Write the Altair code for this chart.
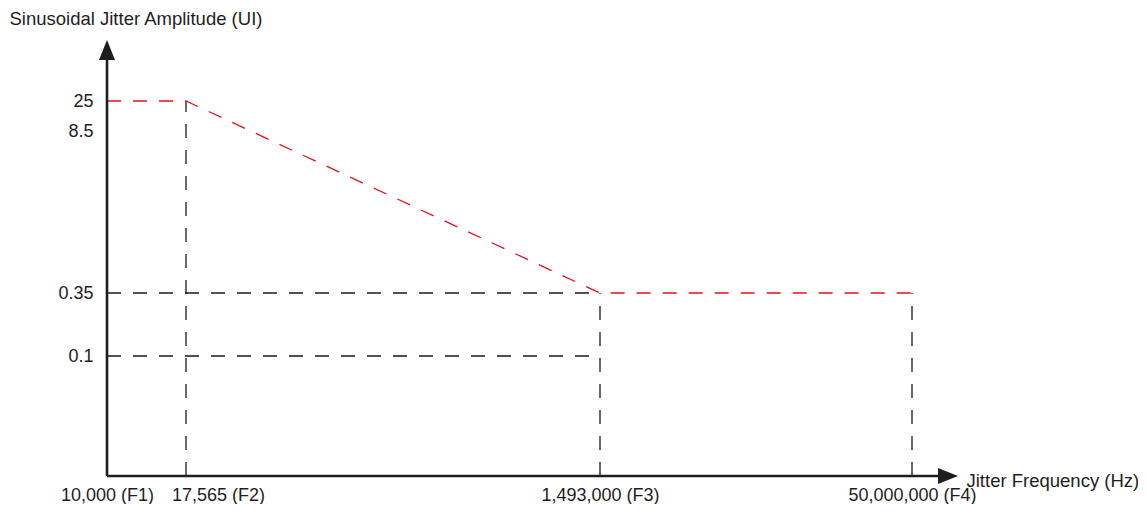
import json
import altair as alt
import pandas as pd

# ---- data -------------------------------------------------------------
freqs = [10000, 17565, 1493000, 50000000]          # Hz
freq_names = ["F1", "F2", "F3", "F4"]
amp_ticks = [0.1, 0.35, 8.5, 25]                   # UI

mask_freq = [10000, 17565, 1493000, 50000000]
mask_amp = [25, 25, 0.35, 0.35]

# black dashed guide lines
vguide_freq = [17565, 1493000, 50000000]
vguide_top = [25, 0.35, 0.35]
hguide_amp = [0.35, 0.1]
hguide_end = [1493000, 1493000]

# ---- layout (schematic, piecewise scales) ------------------------------
W, H = 860, 436
x_range = [0, 79, 493, 805]
y_domain = [0] + amp_ticks
y_range = [436, 316, 253, 91, 61]

FONT = "Liberation Sans"
FS = 18
TFS = 18.5
INK = "#1e1e1e"
GUIDE = "#1a1a1a"
RED = "#e8101a"
DASH = [14, 12]

xscale = alt.Scale(domain=freqs, range=x_range, zero=False, nice=False)
yscale = alt.Scale(domain=y_domain, range=y_range, zero=False, nice=False)

label_expr = (
    "format(datum.value, ',') + ' (' + "
    + json.dumps(freq_names) + "[indexof(" + json.dumps(freqs) + ", datum.value)] + ')'"
)

x_axis = alt.Axis(
    values=freqs, labelExpr=label_expr, grid=False, domain=False, ticks=False,
    tickSize=0, labelPadding=19, labelBaseline="middle", labelOverlap=False,
    labelFlush=False, labelBound=False,
    labelOffset=alt.condition(f"datum.value == {freqs[1]}", alt.value(32), alt.value(0)),
    title="Jitter Frequency (Hz)", titleAngle=0, titleAlign="left",
    titleBaseline="middle", titleX=W - 1, titleY=4,
)
y_axis = alt.Axis(
    values=amp_ticks, format="~g", grid=False, domain=False, ticks=False,
    tickSize=0, labelPadding=14, labelOverlap=False, labelFlush=False,
    title="Sinusoidal Jitter Amplitude (UI)", titleAngle=0, titleAlign="left",
    titleBaseline="middle", titleX=-98, titleY=-22,
)

X = alt.X("freq:Q", scale=xscale, axis=x_axis)
Y = alt.Y("amp:Q", scale=yscale, axis=y_axis)

vdf = pd.DataFrame({"freq": vguide_freq, "amp": [0] * len(vguide_freq), "amp2": vguide_top})
hdf = pd.DataFrame({"freq": [freqs[0]] * len(hguide_amp), "freq2": hguide_end, "amp": hguide_amp})
mdf = pd.DataFrame({"freq": mask_freq, "amp": mask_amp})

vguides = alt.Chart(vdf).mark_rule(color=GUIDE, strokeWidth=1.3, strokeDash=DASH).encode(
    x=X, y=Y, y2="amp2:Q"
)
hguides = alt.Chart(hdf).mark_rule(color=GUIDE, strokeWidth=1.3, strokeDash=DASH).encode(
    x=X, x2="freq2:Q", y=Y
)
mask = alt.Chart(mdf).mark_line(color=RED, strokeWidth=1.3, strokeDash=DASH).encode(
    x=X, y=Y
)

one = pd.DataFrame({"k": [0]})
y_axis_line = alt.Chart(one).mark_rule(color=INK, strokeWidth=2.6).encode(
    x=alt.value(0), y=alt.value(18), y2=alt.value(H)
)
x_axis_line = alt.Chart(one).mark_rule(color=INK, strokeWidth=2.6).encode(
    x=alt.value(0), x2=alt.value(833), y=alt.value(H)
)
y_arrow = alt.Chart(one).mark_point(
    shape="M0,0L0.8,2L-0.8,2Z", filled=True, size=400, color=INK, opacity=1, strokeWidth=0
).encode(x=alt.value(0), y=alt.value(0))
x_arrow = alt.Chart(one).mark_point(
    shape="M0,0L-2,-0.8L-2,0.8Z", filled=True, size=400, color=INK, opacity=1, strokeWidth=0
).encode(x=alt.value(851), y=alt.value(H))

chart = (
    alt.layer(vguides, hguides, mask, y_axis_line, x_axis_line, y_arrow, x_arrow)
    .properties(
        width=W, height=H,
        padding={"left": 99, "top": 32, "right": 171, "bottom": 28},
        autosize=alt.AutoSizeParams(type="none"),
        background="white",
    )
    .configure_view(strokeWidth=0)
    .configure_axis(
        labelFont=FONT, labelFontSize=FS, labelColor=INK,
        titleFont=FONT, titleFontSize=TFS, titleFontWeight="normal", titleColor=INK,
    )
)

chart.save("out.html", embed_options={"renderer": "svg", "actions": False})
